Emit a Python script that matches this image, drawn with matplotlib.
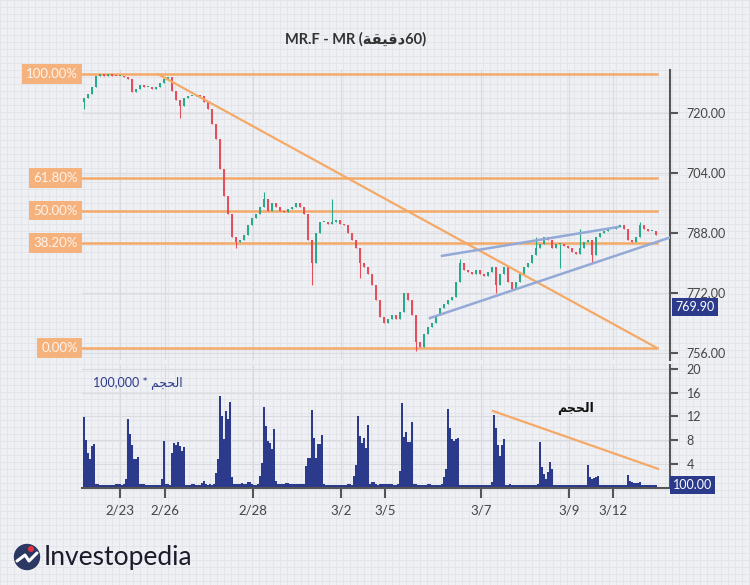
import numpy as np
import matplotlib.pyplot as plt
import matplotlib.patches as patches

plt.rcParams['font.family'] = ['Lato', 'DejaVu Sans']

# ---- data ----
# hourly closes, one per candle
closes = [824, 825, 827, 830, 830.2, 830, 830.2, 830, 829.8, 830,
          829.5, 829, 825.5, 826.5, 827.5, 827, 827, 826.5, 827, 828,
          829, 829.5, 826, 823.5, 822, 824, 824.5, 824.5, 824.8, 824.5,
          823, 821, 817, 813, 805, 798, 793, 787, 785.5, 786,
          787.5, 790, 792, 793, 795, 797, 794, 796, 795, 794,
          793.5, 794.5, 795, 796, 795, 793, 786, 780, 788, 791,
          791, 790.5, 791, 791.5, 790.5, 790, 788, 786, 784, 780,
          779, 777, 774, 770, 765.5, 764, 765, 766, 765, 767,
          772, 770, 766, 759, 757.5, 761, 763, 764, 766, 768,
          769, 770, 771, 775, 780, 778, 777.5, 777, 778, 777,
          776.5, 777.5, 779, 774, 777, 779, 775, 773, 775, 777,
          779, 780, 782, 784, 785, 787, 786, 784, 785, 785,
          784.5, 784, 783, 782.5, 784, 785.5, 786, 782, 787, 788,
          788.5, 789, 789, 789.5, 790, 789, 786, 785.5, 787, 790,
          789, 788.5, 788.5, 787.5]
first_open = 823
wick_hi = {45: 799, 62: 797, 94: 781, 113: 787, 124: 789, 139: 791}
wick_lo = {0: 821, 24: 818.7, 38: 784, 57: 774, 69: 776, 83: 756.5,
           103: 772, 119: 778.7, 127: 780}

# volume (x 100,000), two bars per candle
volume = [11.9, 8.0, 5.8, 4.7, 6.9, 7.3,
          0.5, 0.5, 0.4, 0.3, 0.3, 0.3, 0.3, 0.3, 0.3, 0.4, 0.5, 0.5, 0.5, 0.4, 0.5,
          1.4, 11.5, 9.0, 7.1, 4.7, 4.8, 5.1,
          0.5, 0.5, 0.5, 0.4, 0.3, 0.3, 0.3, 0.4, 0.4, 0.4, 0.3,
          1.3, 7.8, 0.6, 0.5, 0.3,
          5.8, 7.5, 7.1, 7.7, 7.0, 6.1, 6.8,
          0.3, 0.3, 0.3, 0.5, 0.5, 0.4, 0.4, 0.4, 0.7, 1.1, 0.5, 0.3, 0.6, 0.4, 0.5,
          2.4, 4.8, 15.5, 12.0, 8.2, 12.9, 11.6, 14.4, 1.7,
          0.6, 0.5, 0.5, 0.5, 0.7, 0.5, 0.5, 0.8, 0.8, 0.5, 0.3, 0.3, 0.5,
          1.9, 4.1, 13.6, 10.3, 7.8, 7.5, 6.4, 9.9,
          1.0, 0.5, 0.5, 0.5, 0.6, 0.7, 0.7, 0.5, 0.5, 0.5, 0.5, 0.5, 0.5, 0.5, 0.5,
          3.6, 5.0, 5.0, 13.0, 8.3, 4.9, 7.3, 7.3, 8.9,
          0.6, 0.4, 0.4, 0.4, 0.4, 0.4, 0.4, 0.4, 0.4, 0.4, 0.4, 0.4, 0.5, 0.5, 0.4,
          1.9, 3.8, 12.0, 8.6, 7.5, 8.4, 6.6, 10.6,
          0.6, 0.8, 0.8, 0.6, 0.4, 0.6, 0.6, 0.6, 0.6, 0.6, 0.6, 0.6, 0.4, 0.4, 0.5,
          2.8, 14.2, 8.5, 9.4, 7.6, 7.6, 11.1,
          0.5, 0.5, 0.3, 0.4, 0.3, 0.3, 0.3, 0.5, 0.5, 0.3, 0.3, 0.3, 0.4, 0.4, 0.6,
          1.7, 3.1, 13.3, 10.0, 8.1, 7.8, 8.2, 8.3,
          0.3, 0.3, 0.3, 0.3, 0.3, 0.3, 0.3, 0.3, 0.3, 0.3, 0.3, 0.3, 0.3, 0.3, 0.3, 0.3,
          0.8, 12.2, 10.0, 7.1, 5.3, 7.1, 8.1,
          0.3, 0.3, 0.5, 0.3, 0.3, 0.3, 0.3, 0.3, 0.3, 0.3, 0.3, 0.3, 0.3, 0.3, 0.3, 0.4, 0.5,
          7.6, 3.4, 2.2, 1.4, 2.5, 4.2, 3.1,
          0.3, 0.3, 0.3, 0.3, 0.3, 0.3, 0.3, 0.3, 0.3, 0.3, 0.3, 0.3, 0.3, 0.3, 0.3, 0.3, 0.3,
          3.7, 1.7, 1.3, 1.5, 1.7, 1.8,
          0.3, 0.3, 0.3, 0.3, 0.3, 0.3, 0.3, 0.3, 0.3, 0.3, 0.3, 0.3, 0.3, 0.3,
          2.1, 1.0, 0.8, 0.7, 0.7, 0.7, 0.8,
          0.3, 0.3, 0.3, 0.3, 0.4, 0.3, 0.3, 0.3]

date_labels = ['2/23', '2/26', '2/28', '3/2', '3/5', '3/7', '3/9', '3/12']
date_pos = [9, 20.25, 42.25, 64.25, 75.25, 99.25, 121.25, 132.25]

price_ticks = [756, 772, 788, 804, 820]
price_tick_labels = ['756.00', '772.00', '788.00', '704.00', '720.00']
vol_ticks = [4, 8, 12, 16, 20]

fib_labels = ['100.00%', '61.80%', '50.00%', '38.20%', '0.00%']
fib_levels = [830.4, 802.6, 794.0, 785.4, 757.3]

trend_down = ([18.5, 143.25], [830.4, 757.3])
wedge_top = ([89.5, 133.5], [781.9, 789.6])
wedge_bot = ([86.5, 146.5], [765.3, 786.8])
vol_trend = ([102.25, 143.5], [12.9, 3.1])

last_price = 769.90
vol_marker = '100.00'

title = 'MR.F - MR (\ufe94\ufed8\ufef4\ufed7\ufea960)'
vol_title = '100,000 * \ufee2\ufea0\ufea4\ufedf\ufe8d'
vol_note = '\ufee2\ufea0\ufea4\ufedf\ufe8d'

# ---- colours ----
bg_col = '#eef0f4'
orange = '#f5a967'
orange_box = '#f6b27d'
blue_line = '#93a9d6'
navy = '#2c3a8c'
up_col = '#2aa88b'
dn_col = '#e3505c'

fig = plt.figure(figsize=(7.5, 5.85), dpi=100)
fig.patch.set_facecolor(bg_col)

# graph paper background
bg = fig.add_axes([0, 0, 1, 1], zorder=-10)
bg.set_xlim(0, 750)
bg.set_ylim(585, 0)
bg.axis('off')
bg.vlines(np.arange(0, 750, 7), 0, 585, color='#e2e4ea', lw=0.6)
bg.hlines(np.arange(0, 585, 7), 0, 750, color='#e2e4ea', lw=0.6)

# ---- price panel ----
ax = fig.add_axes([82 / 750, 1 - 360 / 585, 588 / 750, 290 / 585])
ax.set_facecolor('none')
ax.set_xlim(-0.5, 146.5)
ax.set_ylim(754.1, 831.5)

c = np.array(closes)
o = np.concatenate([[first_open], c[:-1]])
x = np.arange(len(c))
hi = np.maximum(o, c)
lo = np.minimum(o, c)
for k, v in wick_hi.items():
    hi[k] = v
for k, v in wick_lo.items():
    lo[k] = v
cols = np.where(c >= o, up_col, dn_col)
body = np.where(np.abs(c - o) < 0.3, 0.3, np.abs(c - o))
ax.vlines(x, lo, hi, color=cols, lw=0.8, zorder=3)
ax.bar(x, body, bottom=np.minimum(o, c), width=0.65, color=cols, zorder=4)

for lvl in fib_levels:
    ax.plot([-0.5, 143.25], [lvl, lvl], color=orange, lw=1.8, zorder=2)
for lab, lvl in zip(fib_labels, fib_levels):
    ax.annotate(lab, xy=(0, lvl), xycoords=('axes fraction', 'data'),
                xytext=(-3, 0), textcoords='offset points', ha='right', va='center',
                fontsize=9.5, color='#fdf4ec',
                bbox=dict(boxstyle='square,pad=0.3', fc=orange_box, ec='none'))

ax.plot(*trend_down, color=orange, lw=1.6, zorder=5)
ax.plot(*wedge_top, color=blue_line, lw=1.8, zorder=5)
ax.plot(*wedge_bot, color=blue_line, lw=1.8, zorder=5)

ax.yaxis.tick_right()
ax.set_yticks(price_ticks)
ax.set_yticklabels(price_tick_labels)
ax.set_xticks(date_pos)
ax.tick_params(axis='y', length=6, width=1.5, color='#555555', pad=6,
               labelsize=9, labelcolor='#444444')
ax.tick_params(axis='x', length=0, labelbottom=False)
ax.grid(True, color='#d9dbe1', lw=0.8)
for s in ['left', 'top', 'bottom']:
    ax.spines[s].set_visible(False)
ax.spines['right'].set_color('#555555')
ax.spines['right'].set_linewidth(1.5)

ax.annotate(f'{last_price:.2f}', xy=(1, last_price), xycoords=('axes fraction', 'data'),
            xytext=(4, 0), textcoords='offset points', ha='left', va='top',
            fontsize=9, color='white',
            bbox=dict(boxstyle='square,pad=0.25', fc=navy, ec='none'))

# ---- volume panel ----
vax = fig.add_axes([82 / 750, 1 - 488 / 585, 588 / 750, 123 / 585])
vax.set_facecolor('none')
vax.set_xlim(-0.5, 146.5)
vax.set_ylim(-0.15, 20.7)
vx = np.arange(len(volume)) / 2
vax.bar(vx, volume, width=0.38, color=navy, zorder=3)
vax.plot(*vol_trend, color=orange, lw=1.6, zorder=4)

vax.yaxis.tick_right()
vax.set_yticks(vol_ticks)
vax.set_xticks(date_pos)
vax.set_xticklabels(date_labels)
vax.tick_params(axis='y', length=6, width=1.5, color='#555555', pad=6,
                labelsize=9, labelcolor='#444444')
vax.tick_params(axis='x', length=7, width=1.5, color='#555555', pad=5,
                labelsize=9.5, labelcolor='#444444')
vax.grid(True, color='#d9dbe1', lw=0.8)
for s in ['left', 'top']:
    vax.spines[s].set_visible(False)
for s in ['right', 'bottom']:
    vax.spines[s].set_color('#555555')
    vax.spines[s].set_linewidth(1.5)

vax.text(0.018, 0.86, vol_title, transform=vax.transAxes, fontsize=9, color=navy,
         ha='left', va='center')
vax.text(0.84, 0.65, vol_note, transform=vax.transAxes, fontsize=9, color='#111111',
         ha='center', va='center', fontweight='bold')
vax.annotate(vol_marker, xy=(1, 0.3), xycoords=('axes fraction', 'data'),
             xytext=(2, 0), textcoords='offset points', ha='left', va='center',
             fontsize=9, color='white',
             bbox=dict(boxstyle='square,pad=0.25', fc=navy, ec='none'))

# ---- title ----
fig.text(356 / 750, 1 - 39 / 585, title, ha='center', va='center', fontsize=10.5,
         fontweight='bold', color='#333333')

# ---- logo ----
bg.add_patch(patches.Circle((27, 557), 12.5, color='#2b3863', zorder=2))
bg.plot([17, 25, 29, 37], [561, 555, 561, 553], color='white', lw=2.2, zorder=3,
        solid_capstyle='round')
bg.add_patch(patches.Circle((31, 549), 2.3, color='#e3333f', zorder=4))
bg.text(44, 557, 'Investopedia', fontsize=19, color='#1b1b2b', ha='left', va='center')

fig.savefig('out.png', dpi=100, facecolor=fig.get_facecolor())
